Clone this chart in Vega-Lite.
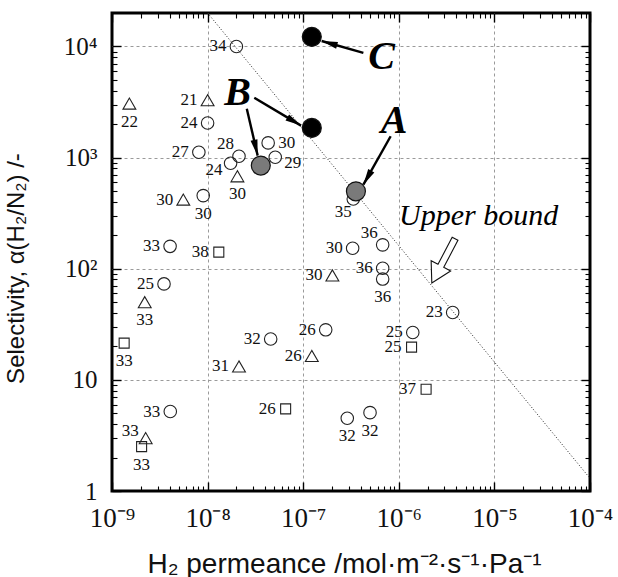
{
  "$schema": "https://vega.github.io/schema/vega-lite/v6.json",
  "width": 478,
  "height": 478,
  "autosize": {"type": "none"},
  "padding": {"left": 112, "top": 13, "right": 28, "bottom": 86},
  "background": "white",
  "config": {"view": {"stroke": "#000", "strokeWidth": 3}},
  "datasets": {
    "pts": [
      {"t": "circle", "x": 2.0e-8, "y": 10000, "lab": "34", "side": "left"},
      {"t": "triangle", "x": 1.52e-9, "y": 3060, "lab": "22", "side": "below"},
      {"t": "triangle", "x": 1.0e-8, "y": 3280, "lab": "21", "side": "left"},
      {"t": "circle", "x": 1.0e-8, "y": 2050, "lab": "24", "side": "left"},
      {"t": "circle", "x": 8.1e-9, "y": 1117, "lab": "27", "side": "left"},
      {"t": "circle", "x": 2.13e-8, "y": 1028, "lab": "28", "side": "ul"},
      {"t": "circle", "x": 1.74e-8, "y": 889, "lab": "24", "side": "ll"},
      {"t": "circle", "x": 4.3e-8, "y": 1356, "lab": "30", "side": "right"},
      {"t": "circle", "x": 5.1e-8, "y": 1006, "lab": "29", "side": "lr"},
      {"t": "triangle", "x": 2.05e-8, "y": 679, "lab": "30", "side": "below"},
      {"t": "triangle", "x": 5.57e-9, "y": 419, "lab": "30", "side": "left"},
      {"t": "circle", "x": 9.0e-9, "y": 455, "lab": "30", "side": "below"},
      {"t": "circle", "x": 4.05e-9, "y": 159, "lab": "33", "side": "left"},
      {"t": "square", "x": 1.31e-8, "y": 141, "lab": "38", "side": "left"},
      {"t": "circle", "x": 3.5e-9, "y": 73, "lab": "25", "side": "left"},
      {"t": "triangle", "x": 2.2e-9, "y": 50, "lab": "33", "side": "below"},
      {"t": "square", "x": 1.34e-9, "y": 21.4, "lab": "33", "side": "below"},
      {"t": "circle", "x": 4.57e-8, "y": 23.3, "lab": "32", "side": "left"},
      {"t": "triangle", "x": 2.13e-8, "y": 13.2, "lab": "31", "side": "left"},
      {"t": "circle", "x": 1.72e-7, "y": 28.2, "lab": "26", "side": "left"},
      {"t": "triangle", "x": 1.23e-7, "y": 16.4, "lab": "26", "side": "left"},
      {"t": "square", "x": 6.55e-8, "y": 5.48, "lab": "26", "side": "left"},
      {"t": "circle", "x": 4.07e-9, "y": 5.19, "lab": "33", "side": "left"},
      {"t": "triangle", "x": 2.25e-9, "y": 2.99, "lab": "33", "side": "ml"},
      {"t": "square", "x": 2.04e-9, "y": 2.51, "lab": "33", "side": "below"},
      {"t": "circle", "x": 2.89e-7, "y": 4.52, "lab": "32", "side": "below"},
      {"t": "circle", "x": 5.0e-7, "y": 5.07, "lab": "32", "side": "below"},
      {"t": "circle", "x": 3.34e-7, "y": 424, "lab": "35", "side": "bl"},
      {"t": "circle", "x": 6.78e-7, "y": 164, "lab": "36", "side": "ul"},
      {"t": "circle", "x": 3.29e-7, "y": 153, "lab": "30", "side": "left"},
      {"t": "triangle", "x": 2.02e-7, "y": 87, "lab": "30", "side": "left"},
      {"t": "circle", "x": 6.78e-7, "y": 101, "lab": "36", "side": "left"},
      {"t": "circle", "x": 6.78e-7, "y": 80.7, "lab": "36", "side": "below"},
      {"t": "circle", "x": 3.66e-6, "y": 40.4, "lab": "23", "side": "left"},
      {"t": "circle", "x": 1.40e-6, "y": 26.7, "lab": "25", "side": "left"},
      {"t": "square", "x": 1.36e-6, "y": 19.7, "lab": "25", "side": "left"},
      {"t": "square", "x": 1.93e-6, "y": 8.24, "lab": "37", "side": "left"}
    ],
    "big": [
      {"tone": "gray", "x": 3.6e-8, "y": 848},
      {"tone": "gray", "x": 3.56e-7, "y": 497},
      {"tone": "black", "x": 1.23e-7, "y": 1850},
      {"tone": "black", "x": 1.23e-7, "y": 12200}
    ],
    "bound": [
      {"x": 1e-8, "y": 20000},
      {"x": 1e-4, "y": 1.3}
    ],
    "arrows": [
      {"id": "C", "x": 4.26e-7, "y": 8770, "x2": 1.56e-7, "y2": 11200},
      {"id": "B1", "x": 3.08e-8, "y": 3450, "x2": 9.5e-8, "y2": 1940},
      {"id": "B2", "x": 2.57e-8, "y": 2750, "x2": 3.34e-8, "y2": 1042},
      {"id": "A", "x": 8.22e-7, "y": 1556, "x2": 4.26e-7, "y2": 571}
    ],
    "letters": [
      {"text": "B", "x": 2.06e-8, "y": 3000},
      {"text": "C", "x": 6.62e-7, "y": 6210},
      {"text": "A", "x": 8.91e-7, "y": 1667}
    ],
    "hint": [
      {"text": "Upper bound", "x": 6.83e-6, "y": 249, "ax": 2.93e-6, "ay": 117.5}
    ]
  },
  "resolve": {"axis": {"x": "independent", "y": "independent"}},
  "layer": [
    {
      "data": {"name": "bound"},
      "mark": {"type": "line", "clip": true, "color": "#222", "strokeWidth": 1, "strokeDash": [1, 2]},
      "encoding": {
        "x": {"field": "x", "type": "quantitative", "scale": {"type": "log", "domain": [1e-9, 1e-4], "nice": false},
          "axis": {"orient": "bottom", "values": [1e-9, 1e-8, 1e-7, 1e-6, 1e-5, 1e-4],
            "labelExpr": "['10⁻⁹','10⁻⁸','10⁻⁷','10⁻⁶','10⁻⁵','10⁻⁴'][round(log(datum.value)/LN10)+9]",
            "ticks": false, "domain": false, "grid": true, "gridColor": "#9a9a9a", "gridDash": [3, 3], "gridWidth": 1,
            "gridOpacity": {"condition": {"test": "datum.value < 2e-9 || datum.value > 5e-5", "value": 0}, "value": 1},
            "labelFont": "Liberation Sans Narrow", "labelFontSize": 27, "labelPadding": 14, "labelOverlap": false, "labelFlush": false, "labelColor": "#111",
            "title": "H₂ permeance /mol·m⁻²·s⁻¹·Pa⁻¹", "titleFont": "Liberation Sans", "titleFontSize": 28, "titleFontWeight": "normal",
            "titleX": 232, "titleY": 81, "titleBaseline": "alphabetic", "titleAlign": "center", "titleColor": "#111"}},
        "y": {"field": "y", "type": "quantitative", "scale": {"type": "log", "domain": [1, 20000], "nice": false},
          "axis": {"orient": "left", "values": [1, 10, 100, 1000, 10000],
            "labelExpr": "['1','10','10²','10³','10⁴'][round(log(datum.value)/LN10)]",
            "ticks": false, "domain": false, "grid": true, "gridColor": "#9a9a9a", "gridDash": [3, 3], "gridWidth": 1,
            "gridOpacity": {"condition": {"test": "datum.value < 2", "value": 0}, "value": 1},
            "labelFont": "Liberation Sans Narrow", "labelFontSize": 25, "labelPadding": 15, "labelOverlap": false, "labelFlush": false, "labelColor": "#111", "labelBaseline": "middle",
            "title": "Selectivity, α(H₂/N₂) /-", "titleFont": "Liberation Sans", "titleFontSize": 24, "titleFontWeight": "normal",
            "titleX": -89, "titleY": 255, "titleBaseline": "alphabetic", "titleAlign": "center", "titleAngle": -90, "titleColor": "#111"}}
      }
    },
    {
      "data": {"name": "pts"},
      "transform": [{"filter": "datum.t == 'circle'"}],
      "mark": {"type": "point", "shape": "circle", "filled": false, "stroke": "#222", "strokeWidth": 1.1, "size": 156, "opacity": 1},
      "encoding": {
        "x": {"field": "x", "type": "quantitative", "scale": {"type": "log", "domain": [1e-9, 1e-4], "nice": false},
          "axis": {"orient": "bottom", "values": [1e-9, 1e-8, 1e-7, 1e-6, 1e-5, 1e-4], "labels": false, "grid": false, "domain": false, "ticks": true, "tickSize": -9, "tickColor": "#000", "tickWidth": 1.4, "title": null}},
        "y": {"field": "y", "type": "quantitative", "scale": {"type": "log", "domain": [1, 20000], "nice": false},
          "axis": {"orient": "left", "values": [1, 10, 100, 1000, 10000], "labels": false, "grid": false, "domain": false, "ticks": true, "tickSize": -9, "tickColor": "#000", "tickWidth": 1.4, "title": null}}
      }
    },
    {
      "data": {"name": "pts"},
      "transform": [{"filter": "datum.t == 'triangle'"}],
      "mark": {"type": "point", "shape": "triangle-up", "filled": false, "stroke": "#222", "strokeWidth": 1.1, "size": 165, "opacity": 1},
      "encoding": {
        "x": {"field": "x", "type": "quantitative", "scale": {"type": "log", "domain": [1e-9, 1e-4], "nice": false},
          "axis": {"orient": "bottom", "values": [2e-9,3e-9,4e-9,5e-9,6e-9,7e-9,8e-9,9e-9,2e-8,3e-8,4e-8,5e-8,6e-8,7e-8,8e-8,9e-8,2e-7,3e-7,4e-7,5e-7,6e-7,7e-7,8e-7,9e-7,2e-6,3e-6,4e-6,5e-6,6e-6,7e-6,8e-6,9e-6,2e-5,3e-5,4e-5,5e-5,6e-5,7e-5,8e-5,9e-5], "labels": false, "grid": false, "domain": false, "ticks": true, "tickSize": -5, "tickColor": "#000", "tickWidth": 1.1, "title": null}},
        "y": {"field": "y", "type": "quantitative", "scale": {"type": "log", "domain": [1, 20000], "nice": false},
          "axis": {"orient": "left", "values": [2,3,4,5,6,7,8,9,20,30,40,50,60,70,80,90,200,300,400,500,600,700,800,900,2000,3000,4000,5000,6000,7000,8000,9000], "labels": false, "grid": false, "domain": false, "ticks": true, "tickSize": -5, "tickColor": "#000", "tickWidth": 1.1, "title": null}}
      }
    },
    {
      "data": {"name": "pts"},
      "transform": [{"filter": "datum.t == 'square'"}],
      "mark": {"type": "point", "shape": "square", "filled": false, "stroke": "#222", "strokeWidth": 1.1, "size": 100, "opacity": 1},
      "encoding": {
        "x": {"field": "x", "type": "quantitative", "scale": {"type": "log", "domain": [1e-9, 1e-4], "nice": false},
          "axis": {"orient": "top", "values": [1e-9, 1e-8, 1e-7, 1e-6, 1e-5, 1e-4], "labels": false, "grid": false, "domain": false, "ticks": true, "tickSize": -9, "tickColor": "#000", "tickWidth": 1.4, "title": null}},
        "y": {"field": "y", "type": "quantitative", "scale": {"type": "log", "domain": [1, 20000], "nice": false},
          "axis": {"orient": "right", "values": [1, 10, 100, 1000, 10000], "labels": false, "grid": false, "domain": false, "ticks": true, "tickSize": -9, "tickColor": "#000", "tickWidth": 1.4, "title": null}}
      }
    },
    {
      "data": {"name": "big"},
      "mark": {"type": "point", "shape": "circle", "filled": true, "stroke": "#111", "strokeWidth": 1.2, "size": 360, "opacity": 1},
      "encoding": {
        "x": {"field": "x", "type": "quantitative", "scale": {"type": "log", "domain": [1e-9, 1e-4], "nice": false},
          "axis": {"orient": "top", "values": [2e-9,3e-9,4e-9,5e-9,6e-9,7e-9,8e-9,9e-9,2e-8,3e-8,4e-8,5e-8,6e-8,7e-8,8e-8,9e-8,2e-7,3e-7,4e-7,5e-7,6e-7,7e-7,8e-7,9e-7,2e-6,3e-6,4e-6,5e-6,6e-6,7e-6,8e-6,9e-6,2e-5,3e-5,4e-5,5e-5,6e-5,7e-5,8e-5,9e-5], "labels": false, "grid": false, "domain": false, "ticks": true, "tickSize": -5, "tickColor": "#000", "tickWidth": 1.1, "title": null}},
        "y": {"field": "y", "type": "quantitative", "scale": {"type": "log", "domain": [1, 20000], "nice": false},
          "axis": {"orient": "right", "values": [2,3,4,5,6,7,8,9,20,30,40,50,60,70,80,90,200,300,400,500,600,700,800,900,2000,3000,4000,5000,6000,7000,8000,9000], "labels": false, "grid": false, "domain": false, "ticks": true, "tickSize": -5, "tickColor": "#000", "tickWidth": 1.1, "title": null}},
        "fill": {"field": "tone", "type": "nominal", "scale": {"domain": ["gray", "black"], "range": ["#7a7a7a", "#000000"]}, "legend": null}
      }
    },
    {
      "data": {"name": "arrows"},
      "mark": {"type": "rule", "color": "#000", "strokeWidth": 2.4},
      "encoding": {
        "x": {"field": "x", "type": "quantitative", "scale": {"type": "log", "domain": [1e-9, 1e-4], "nice": false}, "axis": null},
        "y": {"field": "y", "type": "quantitative", "scale": {"type": "log", "domain": [1, 20000], "nice": false}, "axis": null},
        "x2": {"field": "x2"},
        "y2": {"field": "y2"}
      }
    },
    {
      "data": {"name": "arrows"},
      "transform": [{"filter": "datum.id == 'C'"}],
      "mark": {"type": "point", "shape": "M0,0 L0.22,1 L-0.22,1 Z", "filled": true, "color": "#000", "size": 1024, "angle": 285.7, "opacity": 1},
      "encoding": {
        "x": {"field": "x2", "type": "quantitative", "scale": {"type": "log", "domain": [1e-9, 1e-4], "nice": false}, "axis": null},
        "y": {"field": "y2", "type": "quantitative", "scale": {"type": "log", "domain": [1, 20000], "nice": false}, "axis": null}
      }
    },
    {
      "data": {"name": "arrows"},
      "transform": [{"filter": "datum.id == 'B1'"}],
      "mark": {"type": "point", "shape": "M0,0 L0.22,1 L-0.22,1 Z", "filled": true, "color": "#000", "size": 1024, "angle": 120.7, "opacity": 1},
      "encoding": {
        "x": {"field": "x2", "type": "quantitative", "scale": {"type": "log", "domain": [1e-9, 1e-4], "nice": false}, "axis": null},
        "y": {"field": "y2", "type": "quantitative", "scale": {"type": "log", "domain": [1, 20000], "nice": false}, "axis": null}
      }
    },
    {
      "data": {"name": "arrows"},
      "transform": [{"filter": "datum.id == 'B2'"}],
      "mark": {"type": "point", "shape": "M0,0 L0.22,1 L-0.22,1 Z", "filled": true, "color": "#000", "size": 1024, "angle": 166.7, "opacity": 1},
      "encoding": {
        "x": {"field": "x2", "type": "quantitative", "scale": {"type": "log", "domain": [1e-9, 1e-4], "nice": false}, "axis": null},
        "y": {"field": "y2", "type": "quantitative", "scale": {"type": "log", "domain": [1, 20000], "nice": false}, "axis": null}
      }
    },
    {
      "data": {"name": "arrows"},
      "transform": [{"filter": "datum.id == 'A'"}],
      "mark": {"type": "point", "shape": "M0,0 L0.22,1 L-0.22,1 Z", "filled": true, "color": "#000", "size": 1024, "angle": 209.6, "opacity": 1},
      "encoding": {
        "x": {"field": "x2", "type": "quantitative", "scale": {"type": "log", "domain": [1e-9, 1e-4], "nice": false}, "axis": null},
        "y": {"field": "y2", "type": "quantitative", "scale": {"type": "log", "domain": [1, 20000], "nice": false}, "axis": null}
      }
    },
    {
      "data": {"name": "hint"},
      "mark": {"type": "point", "shape": "M-0.13,-1 L0.13,-1 L0.13,0.22 L0.44,0.22 L0,1 L-0.44,0.22 L-0.13,0.22 Z", "filled": true, "fill": "#fff", "stroke": "#111", "strokeWidth": 1.1, "size": 2500, "angle": 27.7, "opacity": 1},
      "encoding": {
        "x": {"field": "ax", "type": "quantitative", "scale": {"type": "log", "domain": [1e-9, 1e-4], "nice": false}, "axis": null},
        "y": {"field": "ay", "type": "quantitative", "scale": {"type": "log", "domain": [1, 20000], "nice": false}, "axis": null}
      }
    },
    {
      "data": {"name": "hint"},
      "mark": {"type": "text", "font": "Liberation Serif", "fontStyle": "italic", "fontSize": 30, "align": "center", "baseline": "alphabetic", "color": "#000"},
      "encoding": {
        "x": {"field": "x", "type": "quantitative", "scale": {"type": "log", "domain": [1e-9, 1e-4], "nice": false}, "axis": null},
        "y": {"field": "y", "type": "quantitative", "scale": {"type": "log", "domain": [1, 20000], "nice": false}, "axis": null},
        "text": {"field": "text"}
      }
    },
    {
      "data": {"name": "letters"},
      "mark": {"type": "text", "font": "Liberation Serif", "fontStyle": "italic", "fontWeight": "bold", "fontSize": 40, "align": "center", "baseline": "alphabetic", "color": "#000"},
      "encoding": {
        "x": {"field": "x", "type": "quantitative", "scale": {"type": "log", "domain": [1e-9, 1e-4], "nice": false}, "axis": null},
        "y": {"field": "y", "type": "quantitative", "scale": {"type": "log", "domain": [1, 20000], "nice": false}, "axis": null},
        "text": {"field": "text"}
      }
    },
    {
      "data": {"name": "pts"},
      "transform": [{"filter": "datum.side == 'left'"}],
      "mark": {"type": "text", "font": "Liberation Sans Narrow", "fontSize": 17, "align": "right", "baseline": "middle", "dx": -10, "color": "#111"},
      "encoding": {
        "x": {"field": "x", "type": "quantitative", "scale": {"type": "log", "domain": [1e-9, 1e-4], "nice": false}, "axis": null},
        "y": {"field": "y", "type": "quantitative", "scale": {"type": "log", "domain": [1, 20000], "nice": false}, "axis": null},
        "text": {"field": "lab"}
      }
    },
    {
      "data": {"name": "pts"},
      "transform": [{"filter": "datum.side == 'right'"}],
      "mark": {"type": "text", "font": "Liberation Sans Narrow", "fontSize": 17, "align": "left", "baseline": "middle", "dx": 10, "color": "#111"},
      "encoding": {
        "x": {"field": "x", "type": "quantitative", "scale": {"type": "log", "domain": [1e-9, 1e-4], "nice": false}, "axis": null},
        "y": {"field": "y", "type": "quantitative", "scale": {"type": "log", "domain": [1, 20000], "nice": false}, "axis": null},
        "text": {"field": "lab"}
      }
    },
    {
      "data": {"name": "pts"},
      "transform": [{"filter": "datum.side == 'below'"}],
      "mark": {"type": "text", "font": "Liberation Sans Narrow", "fontSize": 17, "align": "center", "baseline": "middle", "dy": 18, "color": "#111"},
      "encoding": {
        "x": {"field": "x", "type": "quantitative", "scale": {"type": "log", "domain": [1e-9, 1e-4], "nice": false}, "axis": null},
        "y": {"field": "y", "type": "quantitative", "scale": {"type": "log", "domain": [1, 20000], "nice": false}, "axis": null},
        "text": {"field": "lab"}
      }
    },
    {
      "data": {"name": "pts"},
      "transform": [{"filter": "datum.side == 'ul'"}],
      "mark": {"type": "text", "font": "Liberation Sans Narrow", "fontSize": 17, "align": "right", "baseline": "middle", "dx": -5, "dy": -12, "color": "#111"},
      "encoding": {
        "x": {"field": "x", "type": "quantitative", "scale": {"type": "log", "domain": [1e-9, 1e-4], "nice": false}, "axis": null},
        "y": {"field": "y", "type": "quantitative", "scale": {"type": "log", "domain": [1, 20000], "nice": false}, "axis": null},
        "text": {"field": "lab"}
      }
    },
    {
      "data": {"name": "pts"},
      "transform": [{"filter": "datum.side == 'll'"}],
      "mark": {"type": "text", "font": "Liberation Sans Narrow", "fontSize": 17, "align": "right", "baseline": "middle", "dx": -8, "dy": 7, "color": "#111"},
      "encoding": {
        "x": {"field": "x", "type": "quantitative", "scale": {"type": "log", "domain": [1e-9, 1e-4], "nice": false}, "axis": null},
        "y": {"field": "y", "type": "quantitative", "scale": {"type": "log", "domain": [1, 20000], "nice": false}, "axis": null},
        "text": {"field": "lab"}
      }
    },
    {
      "data": {"name": "pts"},
      "transform": [{"filter": "datum.side == 'lr'"}],
      "mark": {"type": "text", "font": "Liberation Sans Narrow", "fontSize": 17, "align": "left", "baseline": "middle", "dx": 9, "dy": 6, "color": "#111"},
      "encoding": {
        "x": {"field": "x", "type": "quantitative", "scale": {"type": "log", "domain": [1e-9, 1e-4], "nice": false}, "axis": null},
        "y": {"field": "y", "type": "quantitative", "scale": {"type": "log", "domain": [1, 20000], "nice": false}, "axis": null},
        "text": {"field": "lab"}
      }
    },
    {
      "data": {"name": "pts"},
      "transform": [{"filter": "datum.side == 'ml'"}],
      "mark": {"type": "text", "font": "Liberation Sans Narrow", "fontSize": 17, "align": "right", "baseline": "middle", "dx": -7, "dy": -7, "color": "#111"},
      "encoding": {
        "x": {"field": "x", "type": "quantitative", "scale": {"type": "log", "domain": [1e-9, 1e-4], "nice": false}, "axis": null},
        "y": {"field": "y", "type": "quantitative", "scale": {"type": "log", "domain": [1, 20000], "nice": false}, "axis": null},
        "text": {"field": "lab"}
      }
    },
    {
      "data": {"name": "pts"},
      "transform": [{"filter": "datum.side == 'bl'"}],
      "mark": {"type": "text", "font": "Liberation Sans Narrow", "fontSize": 17, "align": "center", "baseline": "middle", "dx": -10, "dy": 13, "color": "#111"},
      "encoding": {
        "x": {"field": "x", "type": "quantitative", "scale": {"type": "log", "domain": [1e-9, 1e-4], "nice": false}, "axis": null},
        "y": {"field": "y", "type": "quantitative", "scale": {"type": "log", "domain": [1, 20000], "nice": false}, "axis": null},
        "text": {"field": "lab"}
      }
    }
  ]
}
